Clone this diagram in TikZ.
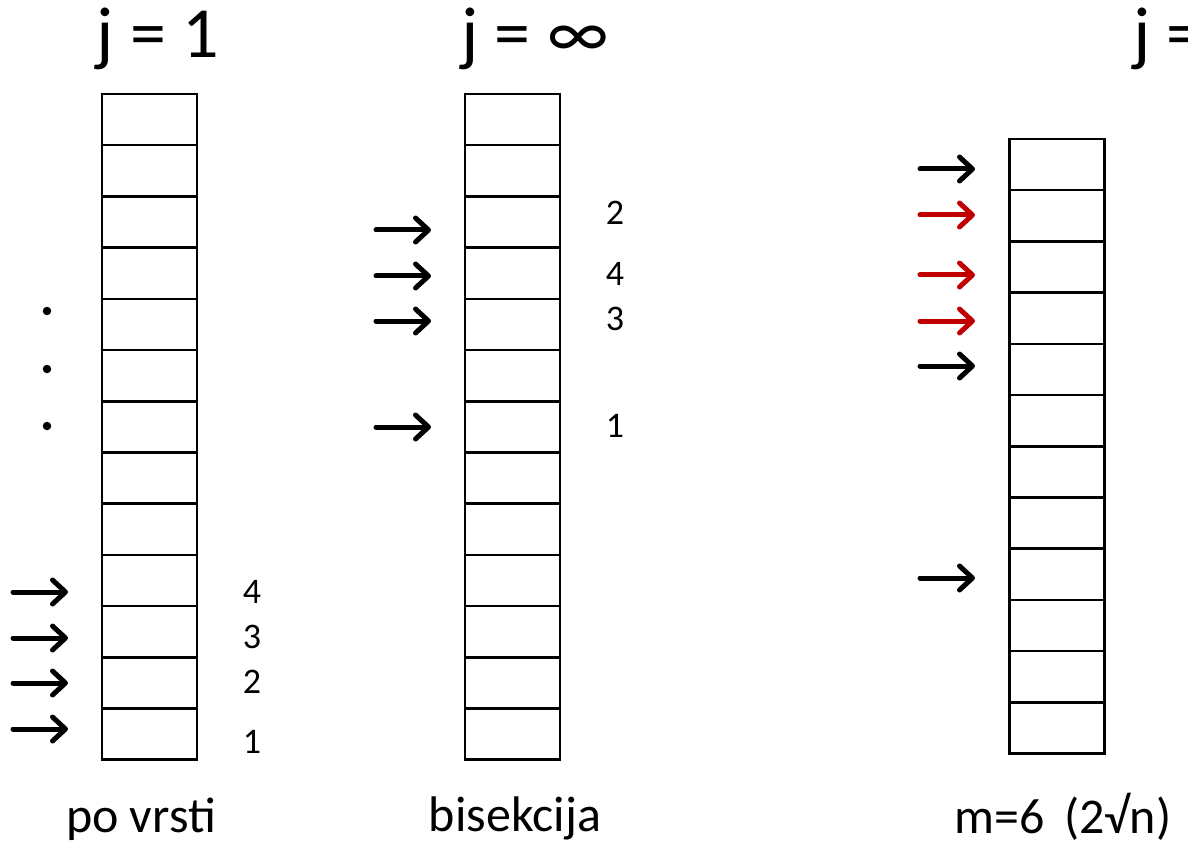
\documentclass[tikz,border=0pt]{standalone}
\usepackage{fontspec}
\setmainfont{Carlito}
\usetikzlibrary{arrows.meta}
\definecolor{darkred}{HTML}{C00000}
\tikzset{
  cell/.style={draw, line width=2.6pt, minimum width=95pt, minimum height=51.2pt, inner sep=0pt, outer sep=0pt},
  arr/.style={line width=5pt, line cap=round, -{Straight Barb[round, length=13pt, width=24pt, line width=5pt]}},
  redarr/.style={arr, darkred},
  title/.style={font=\fontsize{72}{72}\selectfont, anchor=base, inner sep=0pt},
  num/.style={font=\fontsize{36}{36}\selectfont, anchor=base, inner sep=0pt},
  caption/.style={font=\fontsize{50}{50}\selectfont, anchor=base, inner sep=0pt},
  dot/.style={circle, fill=black, inner sep=0pt, minimum size=8.5pt}
}
\begin{document}
\begin{tikzpicture}[x=1pt, y=-1pt]
\useasboundingbox (0,0) rectangle (1188,842);
\clip (0,0) rectangle (1188,842);

% titles
\node[title] (t1) at (158,58) {j = 1};
\node[title] (t2) at (535,58) {j = ∞};
\node[title, anchor=base west] (t3) at (1133,58) {j =};

% column 1: sequential search, 13 cells
\foreach \k in {1,...,13}
  \node[cell] (a\k) at (149.5, {94 + (\k-0.5)*51.2}) {};
% column 2: bisection, 13 cells
\foreach \k in {1,...,13}
  \node[cell] (b\k) at (512.5, {94 + (\k-0.5)*51.2}) {};
% column 3: block jumps, 12 cells
\foreach \k in {1,...,12}
  \node[cell] (c\k) at (1057, {139 + (\k-0.5)*51.2}) {};

% ellipsis dots
\node[dot] (d1) at (47,311) {};
\node[dot] (d2) at (47,369) {};
\node[dot] (d3) at (47,426) {};

% column 1 probes
\foreach \y/\n in {592/p1, 638/p2, 683/p3, 729/p4} {
  \coordinate (\n s) at (13,\y);
  \coordinate (\n e) at (68,\y);
  \draw[arr] (\n s) -- (\n e);
}
\node[num] (n14) at (252,603) {4};
\node[num] (n13) at (252,648) {3};
\node[num] (n12) at (252,693) {2};
\node[num] (n11) at (252,753) {1};

% column 2 probes
\foreach \y/\n in {230/q1, 276/q2, 321/q3, 427/q4} {
  \coordinate (\n s) at (376,\y);
  \coordinate (\n e) at (431,\y);
  \draw[arr] (\n s) -- (\n e);
}
\node[num] (n22) at (615,225) {2};
\node[num] (n24) at (615,286) {4};
\node[num] (n23) at (615,330) {3};
\node[num] (n21) at (615,437) {1};

% column 3 probes
\foreach \y/\n/\s in {169/r1/arr, 215/r2/redarr, 275/r3/redarr, 321/r4/redarr, 366/r5/arr, 578/r6/arr} {
  \coordinate (\n s) at (920,\y);
  \coordinate (\n e) at (975,\y);
  \draw[\s] (\n s) -- (\n e);
}

% captions
\node[caption] (k1) at (141,832) {po vrsti};
\node[caption] (k2) at (515,831) {bisekcija};
\node[caption, anchor=base west] (k3) at (954,833) {m=6\hspace{0.4em}(2√n)};
\end{tikzpicture}
\end{document}
